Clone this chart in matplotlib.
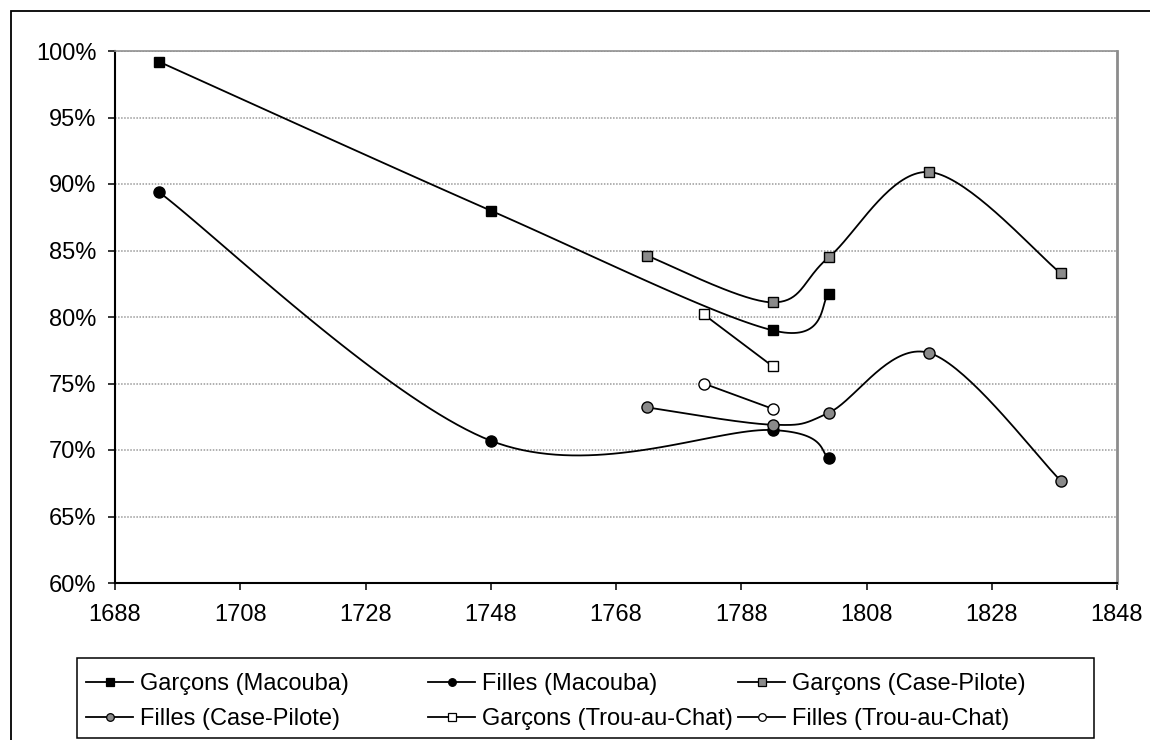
import numpy as np
import matplotlib
matplotlib.use("Agg")
import matplotlib.pyplot as plt
from matplotlib.patches import Rectangle
from matplotlib.lines import Line2D

plt.rcParams['font.family'] = ['Liberation Sans', 'DejaVu Sans']
plt.rcParams['font.size'] = 17

# Shares (%) by census year
years_macouba = [1695, 1748, 1793, 1802]
garcons_macouba = [99.2, 88.0, 79.0, 81.7]
filles_macouba = [89.4, 70.7, 71.5, 69.4]

years_case_pilote = [1773, 1793, 1802, 1818, 1839]
garcons_case_pilote = [84.6, 81.1, 84.5, 90.9, 83.3]
filles_case_pilote = [73.2, 71.9, 72.8, 77.3, 67.7]

years_trou = [1782, 1793]
garcons_trou = [80.2, 76.3]
filles_trou = [75.0, 73.1]

x_ticks = list(range(1688, 1849, 20))
y_ticks = list(range(60, 101, 5))

W, H = 1150, 740
fig = plt.figure(figsize=(W / 100, H / 100), dpi=100)
ax = fig.add_axes([115 / W, 1 - 583 / H, (1117 - 115) / W, (583 - 51) / H])
ax.set_xlim(x_ticks[0], x_ticks[-1])
ax.set_ylim(y_ticks[0], y_ticks[-1])


def smooth(xs, ys, n=40):
    """Bezier smoothing in screen space (Catmull-Rom style control points)."""
    pts = ax.transData.transform(np.column_stack([xs, ys]).astype(float))
    if len(pts) < 3:
        return np.asarray(xs, float), np.asarray(ys, float)
    P = np.vstack([pts[0], pts, pts[-1]])
    t = np.linspace(0, 1, n)[1:, None]
    out = [pts[0]]
    for i in range(1, len(pts)):
        p0, p1 = P[i], P[i + 1]
        c1 = p0 + (P[i + 1] - P[i - 1]) / 6
        c2 = p1 - (P[i + 2] - P[i]) / 6
        seg = ((1 - t) ** 3 * p0 + 3 * (1 - t) ** 2 * t * c1
               + 3 * (1 - t) * t ** 2 * c2 + t ** 3 * p1)
        out.extend(seg)
    out = ax.transData.inverted().transform(np.array(out))
    return out[:, 0], out[:, 1]


GRAY = '#8a8a8a'
series = [
    ("Garçons (Macouba)", years_macouba, garcons_macouba, 's', 'black'),
    ("Filles (Macouba)", years_macouba, filles_macouba, 'o', 'black'),
    ("Garçons (Case-Pilote)", years_case_pilote, garcons_case_pilote, 's', GRAY),
    ("Filles (Case-Pilote)", years_case_pilote, filles_case_pilote, 'o', GRAY),
    ("Garçons (Trou-au-Chat)", years_trou, garcons_trou, 's', 'white'),
    ("Filles (Trou-au-Chat)", years_trou, filles_trou, 'o', 'white'),
]

for k, (label, xs, ys, mk, fc) in enumerate(series):
    sx, sy = smooth(xs, ys)
    ax.plot(sx, sy, color='black', lw=1.3, zorder=3 + k)
    ax.plot(xs, ys, ls='none', marker=mk, ms=7.5 if mk == 's' else 8,
            mfc=fc, mec='black', mew=1.0, zorder=3 + k)

# grid and frame
for v in y_ticks[1:]:
    ax.axhline(v, color='#9a9a9a', lw=1.1, ls=(0, (1, 1)), zorder=1)
ax.spines['top'].set_color('#909090')
ax.spines['top'].set_linewidth(1.2)
ax.spines['right'].set_color('#8c8c8c')
ax.spines['right'].set_linewidth(2.0)
ax.spines['left'].set_linewidth(1.5)
ax.spines['bottom'].set_linewidth(1.5)

ax.set_xticks(x_ticks)
ax.set_xticklabels([str(x) for x in x_ticks])
ax.set_yticks(y_ticks)
ax.set_yticklabels([f"{v}%" for v in y_ticks])
ax.tick_params(axis='both', direction='out', length=5, width=1.1, colors='black')
ax.tick_params(axis='y', pad=8.5)
ax.tick_params(axis='x', pad=10)

# legend: three columns of two entries
handles = [Line2D([], [], color='black', lw=1.3, marker=mk, ms=5.5,
                  mfc=fc, mec='black', mew=0.9) for (_, _, _, mk, fc) in series]
labels = [s[0] for s in series]
columns = [(0, 3), (1, 4), (2, 5)]
col_x = [86, 428, 738]
for (a, b), cx in zip(columns, col_x):
    fig.legend([handles[a], handles[b]], [labels[a], labels[b]],
               loc='upper left', bbox_to_anchor=(cx / W, 1 - 673 / H),
               bbox_transform=fig.transFigure, frameon=False,
               borderpad=0, borderaxespad=0, handlelength=2.0,
               handletextpad=0.3, labelspacing=0.56, fontsize=17)

fig.add_artist(Rectangle((77 / W, 1 - 738 / H), (1094 - 77) / W, (738 - 658) / H,
                         transform=fig.transFigure, fill=False,
                         edgecolor='black', lw=1.1))
# outer chart border (continues past the right and bottom edges)
fig.add_artist(Rectangle((11 / W, -0.05), 1.1, 1.05 - 11 / H,
                         transform=fig.transFigure, fill=False,
                         edgecolor='black', lw=1.3, clip_on=False))

fig.savefig("out.png", dpi=100)
